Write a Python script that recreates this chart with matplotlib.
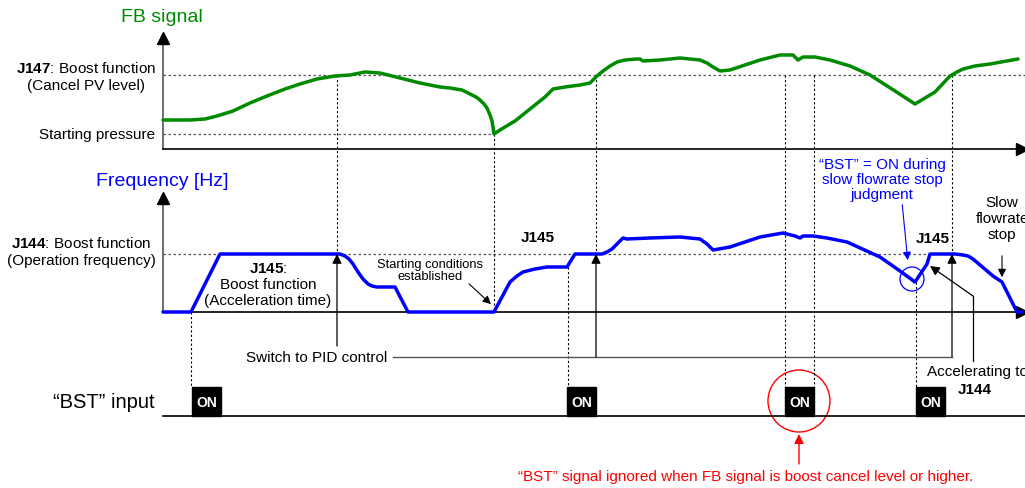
import matplotlib.pyplot as plt
from matplotlib.patches import Circle, Rectangle

plt.rcParams['font.family'] = ['Liberation Sans', 'DejaVu Sans']
plt.rcParams['mathtext.fontset'] = 'custom'
plt.rcParams['mathtext.bf'] = 'Liberation Sans:bold'
plt.rcParams['mathtext.rm'] = 'Liberation Sans'

# diagram is laid out in pixel units (x = time, y = level, downward)
fb_t = [163, 190, 205, 217, 233, 250, 267, 285, 300, 317, 335, 350, 365, 380, 400, 420, 440, 450,
        462, 470, 476, 480, 484, 487, 490, 492, 493, 494, 500, 515, 530, 545, 553, 565, 580, 590,
        597, 603, 610, 617, 625, 637, 640, 643, 660, 680, 690, 700, 707, 713, 720, 730, 745, 760,
        780, 793, 798, 803, 815, 830, 850, 870, 895, 915, 935, 950, 957, 963, 975, 990, 1018]
fb_v = [121, 121, 120, 117, 112, 104, 97, 90, 85, 80, 77, 76, 73, 74, 79, 84, 88, 89,
        91, 95, 98, 101, 105, 109, 116, 122, 128, 135, 131, 122, 110, 98, 90, 88, 86, 84,
        77, 72, 67, 63, 61, 60, 60, 62, 61, 59, 60, 61, 64, 68, 72, 71, 66, 61,
        56, 56, 61, 58, 58, 61, 67, 76, 92, 105, 93, 77, 73, 70, 67, 65, 60]

freq_t = [163, 191, 220, 335, 340, 345, 349, 353, 358, 363, 368, 372, 377, 395, 408, 494, 510,
          517, 523, 535, 547, 567, 575, 596, 602, 607, 612, 617, 623, 627, 650, 680, 700, 707,
          713, 730, 760, 783, 795, 800, 803, 813, 827, 847, 880, 900, 915, 927, 930, 955, 963,
          968, 973, 993, 1002, 1017, 1022]
freq_v = [313, 313, 255, 255, 255, 257, 260, 265, 273, 280, 285, 287, 288, 288, 313, 313, 283,
          277, 273, 270, 268, 268, 255, 255, 255, 253, 250, 245, 239, 240, 239, 238, 240, 245,
          251, 248, 238, 234, 237, 239, 237, 237, 239, 243, 258, 272, 283, 265, 255, 255, 256,
          257, 260, 277, 283, 313, 313]

on_t = [192, 567, 785, 916]
on_width = 29

# dashed guide lines: x, top, bottom
guide_x = [191, 337, 494, 568, 596, 785, 814, 916, 952]
guide_top = [313, 76, 135, 268, 76, 76, 76, 283, 76]
guide_bot = [388, 255, 313, 388, 255, 388, 388, 388, 255]

fb_cancel = 76
fb_start = 135
freq_boost = 255
fb_base, freq_base, bst_base = 150, 313, 417

green = '#008a00'
blue = '#0000ff'
red = '#ff0000'
grey = '#555555'
fs = 11

fig = plt.figure(figsize=(10.25, 4.89), dpi=100)
ax = fig.add_axes([0, 0, 1, 1])
ax.set_xlim(0, 1025)
ax.set_ylim(489, 0)
ax.set_axis_off()

dot = dict(color=grey, lw=0.9, ls=(0, (2, 2)))
ax.plot([163, 1025], [fb_cancel, fb_cancel], **dot)
ax.plot([163, 494], [fb_start, fb_start], **dot)
ax.plot([163, 960], [freq_boost, freq_boost], **dot)
for x, y0, y1 in zip(guide_x, guide_top, guide_bot):
    ax.plot([x, x], [y0, y1], color='black', lw=0.8, ls=(0, (2, 2)))

# axes
for base, top in [(fb_base, 39), (freq_base, 199)]:
    ax.plot([163, 163], [base, top], color=grey, lw=1.2)
    ax.plot([163], [top], marker='^', color='black', ms=8)
    ax.plot([163, 1022], [base, base], color='black', lw=1.2)
    ax.plot([1022], [base], marker='>', color='black', ms=8)
ax.plot([163, 1025], [bst_base, bst_base], color='black', lw=1.2)

ax.plot(fb_t, fb_v, color=green, lw=2.5, solid_capstyle='round', solid_joinstyle='round')
ax.plot(freq_t, freq_v, color=blue, lw=2.5, solid_capstyle='round', solid_joinstyle='round')

for t in on_t:
    ax.add_patch(Rectangle((t, bst_base - 29), on_width, 29, color='black'))
    ax.text(t + on_width / 2, bst_base - 14, 'ON', color='white', fontsize=10,
            fontweight='bold', ha='center', va='center')

# titles and labels
ax.text(162, 18, 'FB signal', color=green, fontsize=14, ha='center', va='center')
ax.text(162, 182, 'Frequency [Hz]', color=blue, fontsize=14, ha='center', va='center')
ax.text(86, 77, '$\\mathbf{J147}$: Boost function\n(Cancel PV level)', fontsize=fs,
        ha='center', va='center', multialignment='center', linespacing=1.2)
ax.text(155, 135, 'Starting pressure', fontsize=fs, ha='right', va='center')
ax.text(81, 252, '$\\mathbf{J144}$: Boost function\n(Operation frequency)', fontsize=fs,
        ha='center', va='center', multialignment='center', linespacing=1.2)
ax.text(104, 402, '\u201cBST\u201d input', fontsize=14.5, ha='center', va='center')

ax.text(268, 285, '$\\mathbf{J145}$:\nBoost function\n(Acceleration time)', fontsize=fs,
        ha='center', va='center', multialignment='center', linespacing=1.15)
ax.text(538, 238, 'J145', fontsize=fs, fontweight='bold', ha='center', va='center')
ax.text(933, 239, 'J145', fontsize=fs, fontweight='bold', ha='center', va='center')
ax.text(430, 271, 'Starting conditions\nestablished', fontsize=9.3, ha='center', va='center',
        linespacing=1.05)
ax.annotate('', xy=(493, 307), xytext=(467, 283),
            arrowprops=dict(arrowstyle='-|>', color='black', lw=0.8, mutation_scale=12))

ax.text(882, 180, '\u201cBST\u201d = ON during\nslow flowrate stop\njudgment', color=blue,
        fontsize=fs, ha='center', va='center', linespacing=1.1)
ax.annotate('', xy=(908, 264), xytext=(902, 203),
            arrowprops=dict(arrowstyle='-|>', color=blue, lw=0.8, mutation_scale=12))
ax.add_patch(Circle((912, 280), 12, fill=False, ec=blue, lw=0.9))

ax.text(1002, 219, 'Slow\nflowrate\nstop', fontsize=fs, ha='center', va='center',
        linespacing=1.2)
ax.annotate('', xy=(1002, 281), xytext=(1002, 254),
            arrowprops=dict(arrowstyle='-|>', color='black', lw=0.8, mutation_scale=12))

# switch to PID control
ax.text(317, 358, 'Switch to PID control', fontsize=fs, ha='center', va='center')
ax.plot([393, 952], [358, 358], color=grey, lw=1)
for x, y0 in [(337, 347), (596, 358), (952, 358)]:
    ax.annotate('', xy=(x, 255), xytext=(x, y0),
                arrowprops=dict(arrowstyle='-|>', color='black', lw=0.9, mutation_scale=14,
                                shrinkA=0, shrinkB=0))

# accelerating to J144
ax.plot([973, 973], [362, 297], color='black', lw=0.9)
ax.annotate('', xy=(930, 267), xytext=(973, 297),
            arrowprops=dict(arrowstyle='-|>', color='black', lw=0.9, mutation_scale=14,
                            shrinkA=0, shrinkB=0))
ax.text(977, 372, 'Accelerating to', fontsize=fs, ha='center', va='center')
ax.text(975, 390, 'J144', fontsize=fs, fontweight='bold', ha='center', va='center')

# ignored BST
ax.add_patch(Circle((799, 402), 31, fill=False, ec=red, lw=1))
ax.annotate('', xy=(799, 435), xytext=(799, 465),
            arrowprops=dict(arrowstyle='-|>', color=red, lw=1, mutation_scale=14,
                            shrinkA=0, shrinkB=0))
ax.text(746, 477, '\u201cBST\u201d signal ignored when FB signal is boost cancel level or higher.',
        color=red, fontsize=11, ha='center', va='center')

fig.savefig('out.png', dpi=100, facecolor='white')
